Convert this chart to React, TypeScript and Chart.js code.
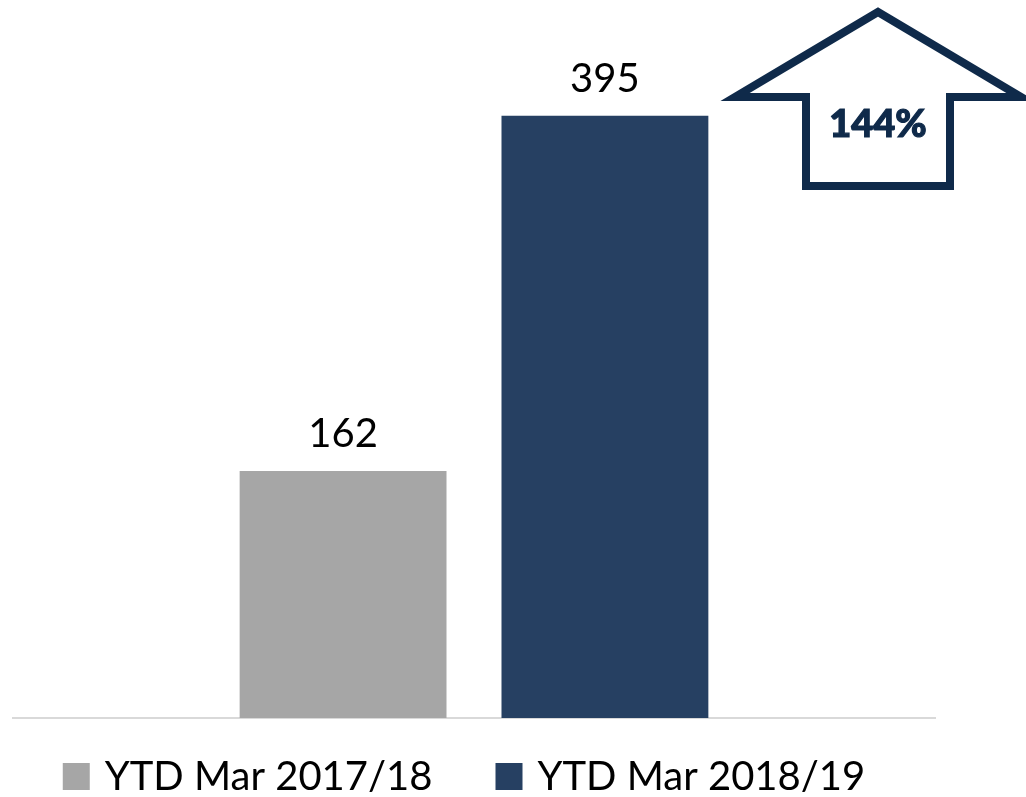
import { useEffect, useRef } from "react";
import { Chart, registerables } from "chart.js";

Chart.register(...registerables);

const categories = [""];
const seriesNames = ["YTD Mar 2017/18", "YTD Mar 2018/19"];
const series2017 = [162];
const series2018 = [395];
const changeLabel = "144%";

const GRAY = "#a6a6a6";
const NAVY = "#264062";
const ARROW = "#0f2a4a";
const FONT = "Lato";

const valueLabels = {
  id: "valueLabels",
  afterDatasetsDraw(chart: any) {
    const ctx = chart.ctx;
    ctx.save();
    ctx.font = `40px ${FONT}`;
    ctx.fillStyle = "#000000";
    ctx.textAlign = "center";
    ctx.textBaseline = "alphabetic";
    chart.data.datasets.forEach((ds: any, i: number) => {
      const meta = chart.getDatasetMeta(i);
      meta.data.forEach((bar: any, j: number) => {
        ctx.fillText(String(ds.data[j]), bar.x, bar.y - 24);
      });
    });
    ctx.restore();
  },
};

const customLegend = {
  id: "customLegend",
  afterDraw(chart: any) {
    const ctx = chart.ctx;
    const area = chart.chartArea;
    ctx.save();
    ctx.font = `40px ${FONT}`;
    const box = 27;
    const gap = 15;
    const itemGap = 63;
    const items = chart.data.datasets.map((ds: any) => ({
      text: ds.label,
      color: ds.backgroundColor,
      w: ctx.measureText(ds.label).width,
    }));
    const total =
      items.reduce((s: number, it: any) => s + box + gap + it.w, 0) +
      itemGap * (items.length - 1);
    let x = (area.left + area.right) / 2 - 10 - total / 2;
    const baseY = 790;
    items.forEach((it: any) => {
      ctx.fillStyle = it.color;
      ctx.fillRect(x, baseY - 27, box, box);
      ctx.fillStyle = "#000000";
      ctx.textAlign = "left";
      ctx.textBaseline = "alphabetic";
      ctx.fillText(it.text, x + box + gap, baseY);
      x += box + gap + it.w + itemGap;
    });
    ctx.restore();
  },
};

const arrowCallout = {
  id: "arrowCallout",
  afterDraw(chart: any) {
    const ctx = chart.ctx;
    const cx = 878;
    ctx.save();
    ctx.strokeStyle = ARROW;
    ctx.lineWidth = 8;
    ctx.lineJoin = "miter";
    ctx.miterLimit = 10;
    ctx.beginPath();
    ctx.moveTo(cx, 12);
    ctx.lineTo(cx + 143, 97);
    ctx.lineTo(cx + 72, 97);
    ctx.lineTo(cx + 72, 186);
    ctx.lineTo(cx - 72, 186);
    ctx.lineTo(cx - 72, 97);
    ctx.lineTo(cx - 143, 97);
    ctx.closePath();
    ctx.stroke();
    ctx.fillStyle = ARROW;
    ctx.strokeStyle = ARROW;
    ctx.lineWidth = 1.2;
    ctx.font = `900 38px ${FONT}`;
    ctx.textAlign = "center";
    ctx.textBaseline = "alphabetic";
    ctx.fillText(changeLabel, cx, 137);
    ctx.strokeText(changeLabel, cx, 137);
    ctx.restore();
  },
};

export default function App() {
  const canvasRef = useRef<HTMLCanvasElement | null>(null);

  useEffect(() => {
    let chart: Chart | null = null;
    let cancelled = false;
    const build = () => {
      if (cancelled || !canvasRef.current) return;
      chart = new Chart(canvasRef.current, {
        type: "bar",
        data: {
          labels: categories,
          datasets: [
            {
              label: seriesNames[0],
              data: series2017,
              backgroundColor: GRAY,
              borderWidth: 0,
            },
            {
              label: seriesNames[1],
              data: series2018,
              backgroundColor: NAVY,
              borderWidth: 0,
            },
          ],
        },
        options: {
          responsive: false,
          animation: false,
          devicePixelRatio: 1,
          categoryPercentage: 0.568,
          barPercentage: 0.79,
          layout: { padding: { left: 13, right: 91, top: 108, bottom: 79 } },
          plugins: {
            legend: { display: false },
            tooltip: { enabled: false },
            title: { display: false },
          },
          scales: {
            x: {
              display: true,
              grid: { display: false, drawTicks: false },
              ticks: { display: false },
              border: { display: true, color: "#d9d9d9", width: 2 },
            },
            y: {
              display: false,
              min: 0,
              max: 400,
            },
          },
        },
        plugins: [valueLabels, customLegend, arrowCallout],
      });
    };
    const fontsReady = (document as any).fonts
      ? Promise.all([
          (document as any).fonts.load(`40px ${FONT}`),
          (document as any).fonts.load(`900 38px ${FONT}`),
        ]).catch(() => null)
      : Promise.resolve(null);
    fontsReady.then(build);
    return () => {
      cancelled = true;
      if (chart) chart.destroy();
    };
  }, []);

  return (
    <div
      style={{
        position: "fixed",
        left: 0,
        top: 0,
        width: 1026,
        height: 797,
        background: "#ffffff",
      }}
    >
      <canvas ref={canvasRef} width={1026} height={797} style={{ display: "block" }} />
    </div>
  );
}
